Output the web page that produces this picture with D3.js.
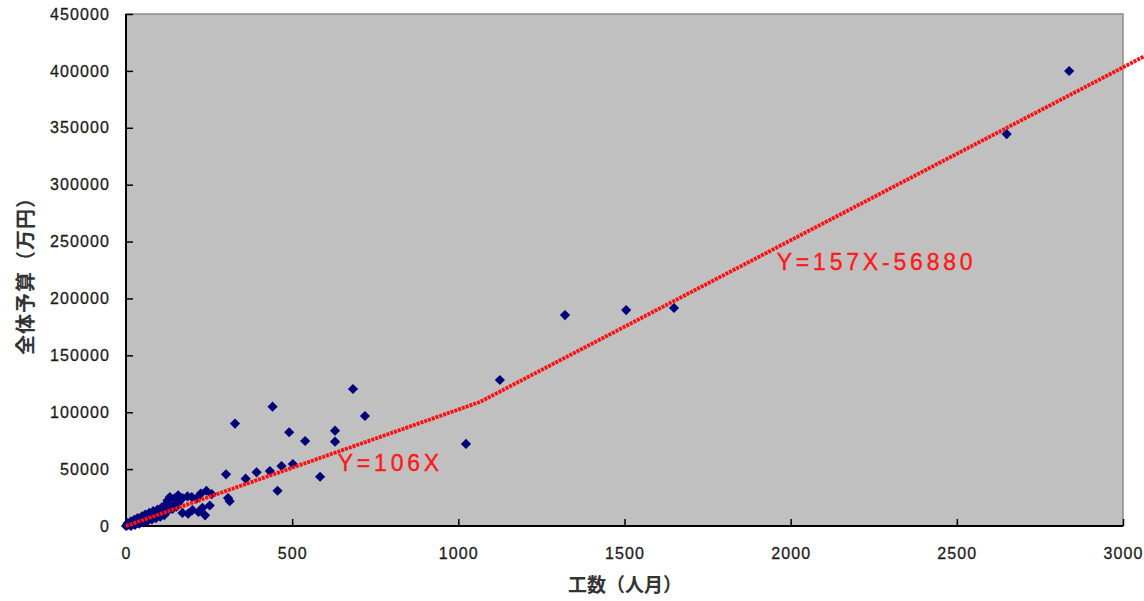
<!DOCTYPE html>
<html><head><meta charset="utf-8">
<script src="https://cdn.jsdelivr.net/npm/d3@7"></script>
<style>
html,body{margin:0;padding:0;background:#fff;}
svg{display:block;}
</style></head>
<body>
<svg id="chart" width="1144" height="601"></svg>
<script>
// ---- data ----
const xTicks = [0, 500, 1000, 1500, 2000, 2500, 3000];
const yTicks = [0, 50000, 100000, 150000, 200000, 250000, 300000, 350000, 400000, 450000];
const xTitle = "工数（人月）";
const yTitle = "全体予算（万円）";

// man-months (X) and total budget in 10k yen (Y)
const projectX = [0,3,8,12,18,22,28,33,38,44,50,55,62,68,74,80,86,92,98,104,110,116,122,128,134,140,146,152,158,
  5,15,25,35,48,58,70,82,95,108,118,
  15,27,40,52,65,78,90,103,115,
  125,132,145,157,170,185,198,212,225,242,
  170,187,200,218,230,238,252,258,
  301,307,312,328,360,393,433,441,456,468,491,502,539,584,629,629,683,719,
  1023,1125,1321,1505,1649,2650,2838];
const projectY = [0,600,1200,2000,1500,2800,3500,2600,4800,4200,6200,5200,7600,6500,8800,7800,10500,9200,12000,10200,13500,12000,15500,13800,17000,15000,19000,17000,20500,
  2500,4000,5500,7000,8500,10000,11500,13000,14500,16500,18500,
  0,1000,2000,3200,4500,5800,7000,8200,9500,
  22500,25500,24000,27000,24500,26000,25500,24000,28500,31000,
  11500,10800,14000,12300,16000,9400,18000,28000,
  45400,24600,21800,90000,41600,47200,48300,104900,31000,52700,82400,54500,74700,43300,83800,74100,120400,96700,
  72100,128300,185400,189800,191600,344500,399900];

// fitted piecewise line
const fitX = [0, 1065, 3065];
const fitY = [0, 109000, 413000];
const fitLabels = ["Y=106X", "Y=157X-56880"];
const fitLabelX = [637, 1958];
const fitLabelY = [48000, 225000];

// ---- chart ----
const svg = d3.select("#chart");
const L = 126, R = 1123, T = 14, B = 526;
const x = d3.scaleLinear().domain([0, 3000]).range([L, R]);
const y = d3.scaleLinear().domain([0, 450000]).range([B, T]);

// plot background
svg.append("rect").attr("x", L).attr("y", T).attr("width", R - L).attr("height", B - T)
  .attr("fill", "#c0c0c0").attr("stroke", "#8c8c8c").attr("stroke-width", 1.5);

// axes
const yAxis = svg.append("g").attr("transform", `translate(${L},0)`)
  .call(d3.axisLeft(y).tickValues(yTicks).tickSize(-7).tickPadding(16).tickFormat(d => String(d)));
const xAxis = svg.append("g").attr("transform", `translate(0,${B})`)
  .call(d3.axisBottom(x).tickValues(xTicks).tickSize(-7).tickPadding(22).tickFormat(d => String(d)));
[yAxis, xAxis].forEach(g => {
  g.select(".domain").attr("stroke", "#000").attr("stroke-width", 2);
  g.selectAll(".tick line").attr("stroke", "#000").attr("stroke-width", 1.5);
  g.selectAll(".tick text").attr("fill", "#1c1c1c")
    .style("font-family", "'Liberation Sans', Arial, sans-serif")
    .style("font-size", "16px").style("letter-spacing", "1.1px")
    .attr("stroke", "#1c1c1c").attr("stroke-width", 0.3);
});
xAxis.select(".domain").attr("d", `M${L},0H${R}`);
yAxis.select(".domain").attr("d", `M0,${B}V${T}`);

// scatter points (diamonds)
const pts = projectX.map((v, i) => [v, projectY[i]]);
const diamond = d3.symbol().type(d3.symbolSquare).size(52);
svg.append("g").selectAll("path").data(pts).join("path")
  .attr("d", diamond)
  .attr("transform", d => `translate(${x(d[0])},${y(d[1])}) rotate(45)`)
  .attr("fill", "#00007a");

// fitted line
const linePts = fitX.map((v, i) => [v, fitY[i]]);
svg.append("path").datum(linePts)
  .attr("d", d3.line().x(d => x(d[0])).y(d => y(d[1])))
  .attr("fill", "none").attr("stroke", "#ff1010").attr("stroke-width", 3.8)
  .attr("stroke-dasharray", "3,1");

// fit labels
svg.append("g").selectAll("text").data(fitLabels).join("text")
  .attr("x", (d, i) => x(fitLabelX[i])).attr("y", (d, i) => y(fitLabelY[i]))
  .attr("fill", "#ff1a1a")
  .style("font-family", "'Liberation Sans', Arial, sans-serif")
  .style("font-size", "23px").style("letter-spacing", "3.8px")
  .attr("stroke", "#ff1a1a").attr("stroke-width", 0.4)
  .text(d => d);

// axis titles
svg.append("text").attr("x", 625).attr("y", 592).attr("text-anchor", "middle")
  .attr("fill", "#333").style("font-weight", "bold")
  .style("font-family", "'Noto Sans CJK JP', sans-serif").style("font-size", "19px")
  .text(xTitle);
svg.append("text").attr("transform", "translate(33,271) rotate(-90)").attr("text-anchor", "middle")
  .attr("fill", "#333").style("font-weight", "bold")
  .style("font-family", "'Noto Sans CJK JP', sans-serif").style("font-size", "20px")
  .style("letter-spacing", "1px")
  .text(yTitle);
</script>
</body></html>
